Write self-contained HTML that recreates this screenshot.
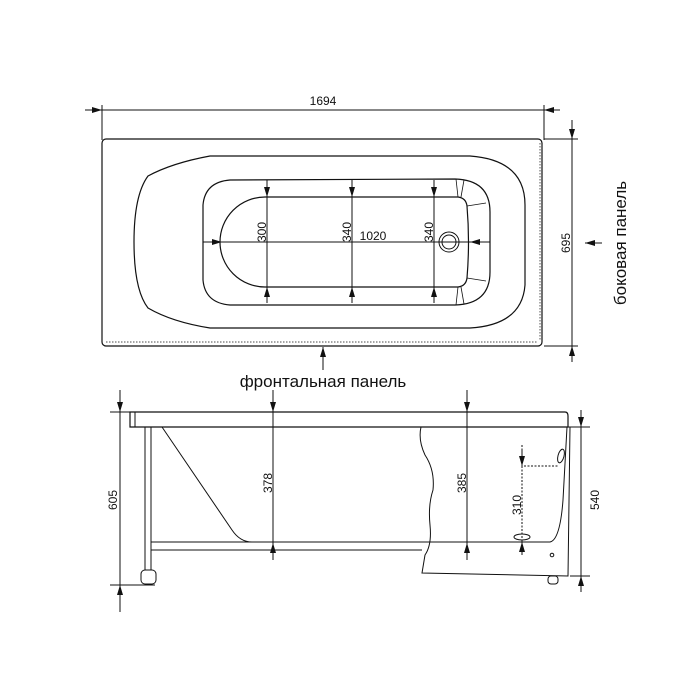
<!DOCTYPE html>
<html><head><meta charset="utf-8"><style>body{margin:0;background:#fff}svg{display:block}text{font-family:"Liberation Sans","DejaVu Sans",sans-serif;fill:#111}</style></head><body>
<svg width="700" height="700" viewBox="0 0 700 700" xmlns="http://www.w3.org/2000/svg">
<defs>
<marker id="a" markerWidth="10" markerHeight="6" refX="10" refY="3" orient="auto" markerUnits="userSpaceOnUse"><path d="M0,0 L10,3 L0,6 Z" fill="#111"/></marker>
</defs>
<g stroke="#111" fill="none" stroke-width="1">
<line x1="85" y1="110" x2="560" y2="110"/>
<path d="M88,110 L102,110" marker-end="url(#a)"/>
<path d="M558,110 L544,110" marker-end="url(#a)"/>
<line x1="102" y1="105" x2="102" y2="140"/>
<line x1="544" y1="105" x2="544" y2="140"/>
<rect x="102" y="139" width="440" height="207" rx="4" stroke-width="1.2"/>
<line x1="106" y1="342" x2="538" y2="342" stroke-dasharray="1.5,1.5" stroke-width="0.7"/>
<line x1="540" y1="143" x2="540" y2="340" stroke-dasharray="1.5,1.5" stroke-width="0.7"/>
<line x1="544" y1="139" x2="578" y2="139"/>
<line x1="544" y1="346" x2="578" y2="346"/>
<line x1="572" y1="120" x2="572" y2="358"/>
<path d="M572,122 L572,139" marker-end="url(#a)"/>
<path d="M572,362 L572,346" marker-end="url(#a)"/>
<path d="M602,243 L585,243" marker-end="url(#a)"/>
<path d="M210,156 L470,156 Q525,160 525,205 L525,285 Q522,325 470,328 L210,328 Q172,322 148,308 Q134,290 134,242 Q134,195 148,176 Q172,163 210,156 Z" stroke-width="1.2"/>
<path d="M230,180 L455,179 Q490,180 490,212 L490,272 Q490,304 455,305 L230,305 Q205,303 203,280 L203,205 Q205,182 230,180 Z" stroke-width="1.2"/>
<path d="M265,197 L458,197 Q466,198 467,206 Q470,242 467,278 Q466,286 458,287 L265,287 A45,45 0 0 1 265,197 Z" stroke-width="1.2"/>
<path d="M456,179 L458,197 M464,180 L461,197 M467,206 L486,203 M467,278 L486,281 M456,305 L458,287 M464,304 L461,287" stroke-width="0.8"/>
<circle cx="449" cy="242" r="10"/><circle cx="449" cy="242" r="7"/>
<line x1="203" y1="242" x2="490" y2="242"/>
<path d="M203,242 L222,242" marker-end="url(#a)"/>
<path d="M488,242 L470,242" marker-end="url(#a)"/>
<line x1="267" y1="180" x2="267" y2="300"/>
<path d="M267,180 L267,197" marker-end="url(#a)"/><path d="M267,303 L267,287" marker-end="url(#a)"/>
<line x1="352" y1="180" x2="352" y2="300"/>
<path d="M352,180 L352,197" marker-end="url(#a)"/><path d="M352,303 L352,287" marker-end="url(#a)"/>
<line x1="434" y1="180" x2="434" y2="300"/>
<path d="M434,180 L434,197" marker-end="url(#a)"/><path d="M434,303 L434,287" marker-end="url(#a)"/>
<path d="M323,370 L323,347" marker-end="url(#a)"/>
<path d="M130,412 L565,412 Q568,412 568,416 L568,427 L130,427 Z" stroke-width="1.2"/>
<line x1="135" y1="412" x2="135" y2="427"/>
<line x1="110" y1="412" x2="130" y2="412"/>
<line x1="110" y1="585" x2="155" y2="585"/>
<line x1="120" y1="390" x2="120" y2="612"/>
<path d="M120,392 L120,412" marker-end="url(#a)"/><path d="M120,606 L120,585" marker-end="url(#a)"/>
<line x1="273" y1="390" x2="273" y2="560"/>
<path d="M273,392 L273,412" marker-end="url(#a)"/><path d="M273,560 L273,543" marker-end="url(#a)"/>
<line x1="467" y1="390" x2="467" y2="560"/>
<path d="M467,392 L467,412" marker-end="url(#a)"/><path d="M467,560 L467,543" marker-end="url(#a)"/>
<rect x="145" y="427" width="6" height="143"/>
<rect x="141" y="570" width="15" height="14" rx="4"/>
<path d="M151,542 L425,542 M151,550 L422,550"/>
<path d="M162,427 L232,530 Q240,542 252,542"/>
<path d="M425,542 L550,542 Q560,540 563,500 L567,427"/>
<path d="M421,427 Q418,440 425,455 Q435,470 433,490 Q428,505 430,525 Q432,545 425,555 L422,573 L568,576 L570,427" stroke-width="1"/>
<rect x="548" y="576" width="10" height="8" rx="3"/>
<line x1="567" y1="427" x2="590" y2="427"/>
<line x1="570" y1="576" x2="590" y2="576"/>
<line x1="581" y1="410" x2="581" y2="592"/>
<path d="M581,410 L581,427" marker-end="url(#a)"/><path d="M581,592 L581,576" marker-end="url(#a)"/>
<ellipse cx="561" cy="456" rx="3" ry="7" transform="rotate(15 561 456)"/>
<line x1="524" y1="466" x2="559" y2="466" stroke-dasharray="2,1.5"/>
<line x1="522" y1="445" x2="522" y2="555" stroke-dasharray="2,1.5"/>
<path d="M522,450 L522,466" marker-end="url(#a)"/><path d="M522,555 L522,542" marker-end="url(#a)"/>
<ellipse cx="522" cy="537" rx="8" ry="3"/>
<circle cx="552" cy="555" r="1.8"/>
</g>
<g font-size="12">
<text x="323" y="105" text-anchor="middle">1694</text>
<text x="373" y="240" text-anchor="middle">1020</text>
<text transform="translate(266,232) rotate(-90)" text-anchor="middle">300</text>
<text transform="translate(351,232) rotate(-90)" text-anchor="middle">340</text>
<text transform="translate(433,232) rotate(-90)" text-anchor="middle">340</text>
<text transform="translate(570,243) rotate(-90)" text-anchor="middle">695</text>
<text transform="translate(117,500) rotate(-90)" text-anchor="middle">605</text>
<text transform="translate(272,483) rotate(-90)" text-anchor="middle">378</text>
<text transform="translate(466,483) rotate(-90)" text-anchor="middle">385</text>
<text transform="translate(521,505) rotate(-90)" text-anchor="middle">310</text>
<text transform="translate(599,500) rotate(-90)" text-anchor="middle">540</text>
</g>
<text x="323" y="387" text-anchor="middle" font-size="17">фронтальная панель</text>
<text transform="translate(626,243) rotate(-90)" text-anchor="middle" font-size="17">боковая панель</text>
</svg>
</body></html>
